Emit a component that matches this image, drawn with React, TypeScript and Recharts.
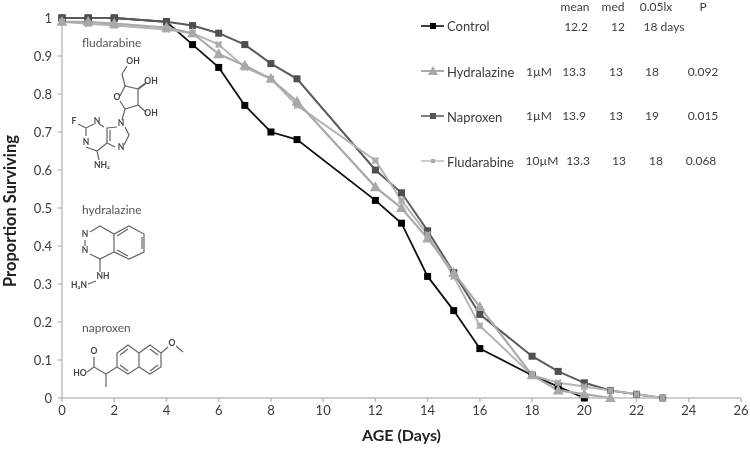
import { LineChart, Line, XAxis, YAxis } from "recharts";

const days = [0, 1, 2, 4, 5, 6, 7, 8, 9, 12, 13, 14, 15, 16, 18, 19, 20, 21, 22, 23];
const control = [1, 1, 1, 0.99, 0.93, 0.87, 0.77, 0.7, 0.68, 0.52, 0.46, 0.32, 0.23, 0.13, 0.06, 0.03, 0, null, null, null];
const hydralazine = [0.99, 0.99, 0.985, 0.975, 0.96, 0.905, 0.875, 0.84, 0.78, 0.555, 0.5, 0.42, 0.33, 0.24, 0.06, 0.02, 0.01, 0, null, null];
const naproxen = [1, 1, 1, 0.99, 0.98, 0.96, 0.93, 0.88, 0.84, 0.6, 0.54, 0.44, 0.33, 0.22, 0.11, 0.07, 0.04, 0.02, 0.01, 0];
const fludarabine = [0.99, 0.985, 0.98, 0.97, 0.96, 0.93, 0.87, 0.84, 0.77, 0.625, 0.52, 0.43, 0.32, 0.19, 0.06, 0.04, 0.03, 0.02, 0.01, 0];

const xTicks = [0, 2, 4, 6, 8, 10, 12, 14, 16, 18, 20, 22, 24, 26];
const yTicks = [0, 0.1, 0.2, 0.3, 0.4, 0.5, 0.6, 0.7, 0.8, 0.9, 1];

const tableHeader = [
  ["mean", 575],
  ["med", 613],
  ["0.05lx", 656],
  ["P", 703],
] as const;

const tableRows = [
  { y: 27, cells: [["12.2", 576], ["12", 618], ["18 days", 664]] },
  { y: 72, cells: [["1µM", 539], ["13.3", 574], ["13", 616], ["18", 652], ["0.092", 703]] },
  { y: 116, cells: [["1µM", 539], ["13.9", 574], ["13", 616], ["19", 652], ["0.015", 703]] },
  { y: 161, cells: [["10µM", 542], ["13.3", 578], ["13", 619], ["18", 656], ["0.068", 701]] },
] as const;

const rows = days.map((day, i) => ({
  day,
  control: control[i],
  hydralazine: hydralazine[i],
  naproxen: naproxen[i],
  fludarabine: fludarabine[i],
}));

const font = "Lato, 'Open Sans', sans-serif";
const axisColor = "#bdbdbd";
const textColor = "#3c3c3c";

const squareDot = (fill: string, size: number) => (props: any) => {
  const { cx, cy, index } = props;
  if (cx == null || cy == null) return <g key={index} />;
  return <rect key={index} x={cx - size / 2} y={cy - size / 2} width={size} height={size} fill={fill} />;
};

const triangleDot = (fill: string, size: number) => (props: any) => {
  const { cx, cy, index } = props;
  if (cx == null || cy == null) return <g key={index} />;
  return (
    <polygon
      key={index}
      points={`${cx},${cy - size * 0.65} ${cx + size * 0.6},${cy + size * 0.45} ${cx - size * 0.6},${cy + size * 0.45}`}
      fill={fill}
    />
  );
};

// small see-through square with a cross on it, greys out whatever sits underneath
const crossDot = (stroke: string, size: number) => (props: any) => {
  const { cx, cy, index } = props;
  if (cx == null || cy == null) return <g key={index} />;
  const r = size / 2;
  return (
    <g key={index} stroke={stroke} strokeWidth={1.4}>
      <rect x={cx - r} y={cy - r} width={size} height={size} fill="#a8a8a8" fillOpacity={0.8} stroke="none" />
      <line x1={cx - r} y1={cy - r} x2={cx + r} y2={cy + r} />
      <line x1={cx - r} y1={cy + r} x2={cx + r} y2={cy - r} />
    </g>
  );
};

function Path({ d, w = 1.2 }: { d: string; w?: number }) {
  return <path d={d} fill="none" stroke="#666" strokeWidth={w} />;
}

function Atom({ x, y, t }: { x: number; y: number; t: string }) {
  return (
    <text x={x} y={y} fontSize={8.5} fontWeight={700} fill="#444" textAnchor="middle" dominantBaseline="middle">
      {t}
    </text>
  );
}

function Molecules() {
  return (
    <g fontFamily={font}>
      <text x={82} y={47} fontSize={12} fill="#555">fludarabine</text>
      <Path d="M120 96 L125 86 L138 89 L138 105 L125 109 L120 101" />
      <Path d="M125 86 L122 74 L127 66" />
      <Path d="M138 89 L146 83" w={2} />
      <Path d="M138 105 L146 112" />
      <Path d="M125 109 L122 120" />
      <Path d="M117 127 L107 128 L107 143 L115 147 M125 127 L129 135 L124 145 M110 130 L110 141" />
      <Path d="M104 127 L99 124 M94 124 L86 128 L86 136 M78 124 L86 128 M86 147 L97 151 L107 143 M97 151 L99 160" />
      <Atom x={133} y={62} t="OH" />
      <Atom x={151} y={82} t="OH" />
      <Atom x={151} y={114} t="OH" />
      <Atom x={117} y={98} t="O" />
      <Atom x={121} y={124} t="N" />
      <Atom x={121} y={148} t="N" />
      <Atom x={97} y={122} t="N" />
      <Atom x={86} y={143} t="N" />
      <Atom x={74} y={122} t="F" />
      <Atom x={102} y={166} t="NH₂" />

      <text x={82} y={214} fontSize={12} fill="#555">hydralazine</text>
      <Path d="M90 232 L100 226 L114 234 L129 226 L144 234 L144 252 L129 259 L114 252 L100 259 L90 254 M114 234 L114 252 M85 240 L85 246 M142 237 L142 249 M117 236 L128 229 M117 250 L128 256" />
      <Path d="M100 259 L100 272 M96 281 L88 284" />
      <Atom x={85} y={235} t="N" />
      <Atom x={85} y={251} t="N" />
      <Atom x={103} y={277} t="NH" />
      <Atom x={79} y={286} t="H₂N" />

      <text x={82} y={332} fontSize={12} fill="#555">naproxen</text>
      <Path d="M94 357 L94 367 L87 372 M94 367 L106 374 L106 387 M106 374 L117 367 L117 353 L128 345 L139 353 L139 367 L128 374 L117 367 M139 353 L150 345 L161 353 L161 367 L150 374 L139 367 M161 353 L168 347 M176 346 L183 352 M120 355 L128 349 M120 365 L128 371 M150 349 L158 355 M150 371 L158 365" />
      <Atom x={94} y={352} t="O" />
      <Atom x={80} y={374} t="HO" />
      <Atom x={172} y={344} t="O" />
    </g>
  );
}

function LegendTable() {
  return (
    <g fontFamily={font} fontSize={12} fill={textColor}>
      {tableHeader.map(([t, x]) => (
        <text key={t} x={x} y={11} textAnchor="middle">{t}</text>
      ))}
      {tableRows.map((row) =>
        row.cells.map(([t, x]) => (
          <text key={`${row.y}-${x}`} x={x} y={row.y + 4} textAnchor="middle">{t}</text>
        ))
      )}
      <line x1={421} x2={444} y1={26} y2={26} stroke="#000" strokeWidth={1.5} />
      <rect x={430} y={23} width={6} height={6} fill="#000" />
      <text x={447} y={31} fontSize={13}>Control</text>
      <line x1={421} x2={444} y1={71} y2={71} stroke="#aaa" strokeWidth={2} />
      <polygon points="433,66 438,75 428,75" fill="#aaa" />
      <text x={447} y={77} fontSize={13}>Hydralazine</text>
      <line x1={421} x2={444} y1={116} y2={116} stroke="#555" strokeWidth={1.5} />
      <rect x={430} y={113} width={6} height={6} fill="#555" />
      <text x={447} y={122} fontSize={13}>Naproxen</text>
      <line x1={421} x2={444} y1={161} y2={161} stroke="#bbb" strokeWidth={1.5} />
      <rect x={431} y={159} width={4} height={4} fill="#aaa" />
      <text x={447} y={167} fontSize={13}>Fludarabine</text>
    </g>
  );
}

export default function App() {
  return (
    <div style={{ position: "absolute", left: 0, top: 0, width: 750, height: 450, background: "#fff", overflow: "hidden", filter: "blur(0.4px)" }}>
      <LineChart
        width={750}
        height={450}
        data={rows}
        margin={{ top: 18, right: 9, bottom: 22, left: 2 }}
        style={{ fontFamily: font }}
      >
        <XAxis
          dataKey="day"
          type="number"
          domain={[0, 26]}
          ticks={xTicks}
          height={30}
          interval={0}
          stroke={axisColor}
          strokeWidth={1.5}
          tickSize={4}
          tickMargin={4}
          tick={{ fill: textColor, fontSize: 13 }}
          label={{ value: "AGE (Days)", position: "bottom", offset: 2, fill: "#222", fontSize: 16, fontWeight: 700 }}
        />
        <YAxis
          type="number"
          domain={[0, 1]}
          ticks={yTicks}
          width={60}
          interval={0}
          stroke={axisColor}
          strokeWidth={1.5}
          tickSize={4}
          tickMargin={6}
          tick={{ fill: textColor, fontSize: 13 }}
          label={{ value: "Proportion Surviving", angle: -90, position: "insideLeft", offset: 8, dy: 3, fill: "#222", fontSize: 16.5, fontWeight: 700, style: { textAnchor: "middle" } }}
        />
        <Line dataKey="control" stroke="#111" strokeWidth={1.8} dot={squareDot("#000", 7)} isAnimationActive={false} connectNulls={false} />
        <Line dataKey="naproxen" stroke="#5a5a5a" strokeWidth={2} dot={squareDot("#4f4f4f", 7)} isAnimationActive={false} />
        <Line dataKey="fludarabine" stroke="#b5b5b5" strokeWidth={2} dot={crossDot("#aaa", 6)} isAnimationActive={false} />
        <Line dataKey="hydralazine" stroke="#aaaaaa" strokeWidth={2.2} dot={triangleDot("#a8a8a8", 9)} isAnimationActive={false} />
      </LineChart>
      <svg width={750} height={450} style={{ position: "absolute", left: 0, top: 0, pointerEvents: "none" }}>
        <Molecules />
        <LegendTable />
      </svg>
    </div>
  );
}
